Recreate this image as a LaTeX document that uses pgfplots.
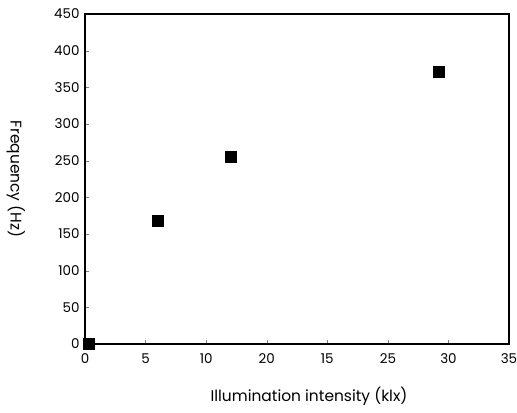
\documentclass[border=0pt]{standalone}
\usepackage{pgfplots}
\pgfplotsset{compat=1.18}
\usepackage{fontspec}
\setmainfont{Poppins}
\begin{document}
\begin{tikzpicture}[x=1bp,y=1bp]
\path[use as bounding box] (0,0) rectangle (517,412);
\begin{axis}[
  at={(85bp,68bp)}, anchor=south west,
  scale only axis, width=424bp, height=330bp,
  xmin=0, xmax=35, ymin=0, ymax=450,
  xtick={0,5,10,15,20,25,30,35},
  xticklabels={0,5,10,20,15,25,30,35},
  ytick={0,50,100,150,200,250,300,350,400,450},
  tick align=inside, xtick pos=bottom, ytick pos=left,
  major tick length=4bp,
  /pgf/number format/assume math mode=true,
  tick label style={font=\fontsize{13.5}{15}\selectfont},
  xticklabel style={yshift=-6bp},
  yticklabel style={xshift=-2bp},
  label style={font=\fontsize{15.5}{17}\selectfont},
  xlabel={Illumination intensity (klx)},
  ylabel={Frequency (Hz)},
  ylabel style={at={(axis description cs:-0.163,0.5)}, anchor=center, rotate=180},
  xlabel style={at={(axis description cs:0.5,0)}, yshift=-52bp, xshift=12bp, anchor=center},
  axis line style={line width=1.1pt},
  clip=false,
]
\addplot[only marks, mark=square*, mark size=5.5bp, black] coordinates {
  (0.3,0) (6.0,168) (12.0,256) (29.2,372)
};
\end{axis}
\end{tikzpicture}
\end{document}
